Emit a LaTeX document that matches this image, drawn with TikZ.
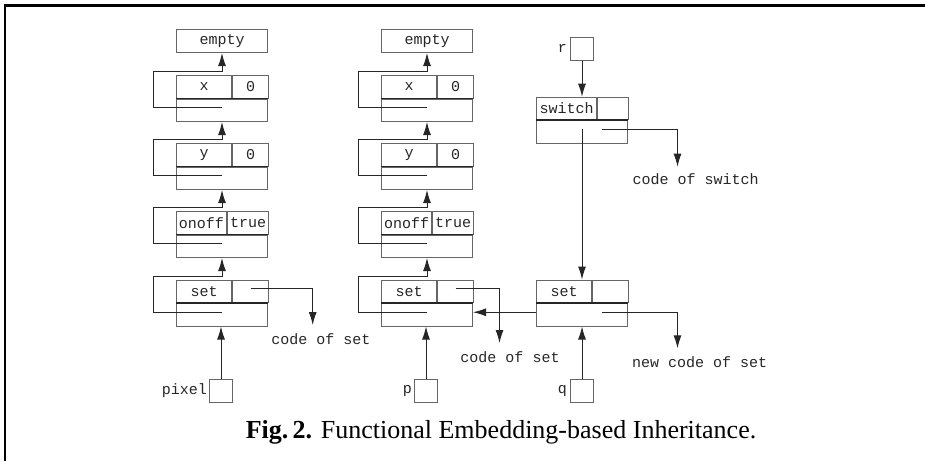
\documentclass[tikz,border=0pt]{standalone}
\usepackage{fontspec}
\setmainfont{Liberation Serif}
\setmonofont{Liberation Mono}
\usetikzlibrary{positioning,arrows.meta}
\definecolor{boxgray}{gray}{0.4}

\begin{document}
\begin{tikzpicture}[
  x=1pt,y=-1pt,
  every node/.style={font=\ttfamily\fontsize{15}{15}\selectfont,inner sep=0pt,text=black!85},
  cell/.style={draw=boxgray,line width=1pt,minimum height=22.5pt,anchor=north west},
  bar/.style={draw=black!85,line width=1.8pt},
  ptr/.style={draw=black!85,line width=1pt,-{Latex[length=13pt,width=8pt]}},
  ]
  \useasboundingbox (0,0) rectangle (925,461);
  \draw[line width=2.5pt] (5,461) -- (5,5.5) -- (925,5.5);

  % the two objects built by embedding
  \foreach \c/\ox/\var/\cx/\cy/\lx/\ly in {1/176/pixel/312.7/325/321/339,2/381/p/499.5/343/510/357}{
    \node[cell,minimum width=91pt,minimum height=23pt] (el\c) at (\ox,29) {empty};
    \foreach \n/\T/\w/\key/\val/\prev in {x/75/55/x/0/e,y/143/55/y/0/x,o/211/50/onoff/true/y,s/279.5/55/set//o}{
      \node[cell,minimum width=\w pt] (\n k\c) at (\ox,\T) {\key};
      \node[cell,minimum width=91pt-\w pt] (\n v\c) at (\n k\c.north east) {\val};
      \node[cell,minimum width=91pt,below=0pt of \n k\c.south west,anchor=north west] (\n l\c) {};
      \draw[bar] (\n l\c.north west) -- (\n l\c.north east);
      \draw[ptr] ([yshift=2.5pt]\n l\c.center) -- ++(-68.5,0) -- ++(0,-36) -| (\prev l\c.south);
    }
    \coordinate (code\c) at (\cx,\cy);
    \draw[ptr] ([yshift=2.5pt]sv\c.center) -| (code\c);
    \node (cl\c) at (\lx,\ly) {code of set};
    \node[cell,minimum width=23pt,minimum height=23pt] (var\c) at (\ox+33,379) {};
    \node[left=2pt of var\c] (vn\c) {\var};
    \draw[ptr] (var\c.north) -- (var\c.north |- sl\c.south);
  }

  % the new object q
  \node[cell,minimum width=23pt,minimum height=23pt] (r) at (570,36.7) {};
  \node[left=3pt of r] (rn) {r};
  \node[cell,minimum width=60pt] (swk) at (536,96.7) {switch};
  \node[cell,minimum width=31pt] (swv) at (swk.north east) {};
  \node[cell,minimum width=91pt,below=0pt of swk.south west,anchor=north west] (swl) {};
  \draw[bar] (swl.north west) -- (swl.north east);
  \node[cell,minimum width=55pt] (sk3) at (536,279.5) {set};
  \node[cell,minimum width=36pt] (sv3) at (sk3.north east) {};
  \node[cell,minimum width=91pt,below=0pt of sk3.south west,anchor=north west] (sl3) {};
  \draw[bar] (sl3.north west) -- (sl3.north east);
  \node[cell,minimum width=23pt,minimum height=23pt] (q) at (570,379.3) {};
  \node[left=3pt of q] (qn) {q};
  \coordinate (swcode) at (677.5,166.7);
  \coordinate (newcode) at (677.5,348.3);
  \node (swcl) at (695.5,179) {code of switch};
  \node (ncl) at (699.5,361.7) {new code of set};

  \draw[ptr] (r.south) -- (r.south |- swk.north);
  \draw[ptr] ([yshift=2.5pt]swl.center) -- (swl.center |- sk3.north);
  \draw[ptr] ([xshift=19.5pt,yshift=2.5pt]swl.center) -| (swcode);
  \draw[ptr] ([xshift=19.5pt,yshift=2.5pt]sl3.center) -| (newcode);
  \draw[ptr] (q.north) -- (q.north |- sl3.south);
  \draw[ptr] ([yshift=2.5pt]sl3.west) -- ([yshift=2.5pt]sl2.east);

  \node[font=\rmfamily\fontsize{26}{26}\selectfont,text=black] (cap) at (501,432)
    {\textbf{Fig.\,2.} Functional Embedding-based Inheritance.};
\end{tikzpicture}
\end{document}
